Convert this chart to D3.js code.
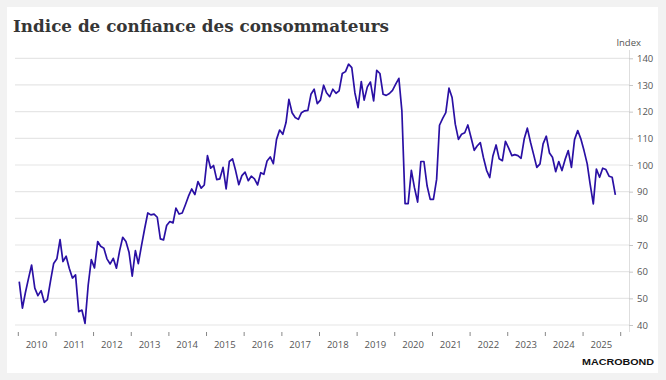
<!DOCTYPE html>
<html>
<head>
<meta charset="utf-8">
<script src="https://cdn.jsdelivr.net/npm/d3@7"></script>
<style>
html, body { margin: 0; padding: 0; background: #f2f2f2; }
svg { display: block; }
</style>
</head>
<body>
<div id="chart"></div>
<script>
// monthly values, starting Jan 2010
var startYear = 2010;
var index = [
    56.3, 46.3, 52, 57.5, 62.5, 53.8, 51, 52.9, 48.5, 49.5, 56.6, 63.1,
    64.8, 72, 63.8, 65.8, 61.3, 57.6, 58.8, 45, 45.6, 40.6, 55, 64.5,
    61.4, 71.3, 69.5, 68.8, 64.8, 62.9, 65, 61.3, 67.9, 72.9, 71.3, 67.3,
    58.3, 67.9, 63, 69.8, 76, 82, 81.3, 81.6, 80.4, 72.3, 71.9, 77.3,
    78.8, 78.3, 83.8, 81.6, 82, 85.1, 88.3, 91, 88.9, 93.8, 91.3, 92.5,
    103.5, 98.8, 99.8, 94.5, 94.8, 99.1, 91, 101.3, 102.3, 97.9, 92.6, 96,
    97.3, 94.1, 95.8, 94.8, 92.5, 97.1, 96.5, 101.5, 103, 100.5, 109.6, 113.1,
    111.5, 115.9, 124.6, 119.6, 117.8, 117.1, 119.6, 120.3, 120.5, 126.5, 128.4, 123,
    124.3, 129.9, 127.1, 125.6, 128.4, 126.9, 127.8, 134.3, 135, 137.8, 136.5, 127.1,
    121.5, 131.3, 124.3, 129.3, 131.1, 124, 135.5, 134.3, 126.5, 126.1, 126.8, 128,
    130.3, 132.5, 120.3, 85.5, 85.5, 98, 91.5, 86.1, 101.3, 101.3, 92.1, 87.1,
    87.1, 94.6, 114.9, 117.5, 119.6, 128.8, 125.3, 115.3, 109.6, 111.5, 112.1, 115,
    110.3, 105.5, 107.1, 108.4, 102.8, 98, 95.3, 103.4, 107.5, 102.3, 101.6, 108.9,
    106.3, 103.5, 103.9, 103.5, 102.5, 109.8, 113.8, 108.5, 103.8, 99.1, 100.4, 107.9,
    110.8, 104.5, 102.9, 97.5, 101.3, 97.9, 102, 105.4, 99.1, 109.5, 112.9, 109.8,
    105.4, 100.4, 92.9, 85.4, 98.5, 95.4, 98.8, 98.3, 95.8, 95.4, 88.8
];
var yearLabels = [2010, 2011, 2012, 2013, 2014, 2015, 2016, 2017, 2018, 2019, 2020, 2021, 2022, 2023, 2024, 2025];
var yTicks = [40, 50, 60, 70, 80, 90, 100, 110, 120, 130, 140];

var width = 666;
var height = 380;

var svg = d3
    .select('#chart')
    .append('svg')
    .attr('width', width)
    .attr('height', height);

// white card
svg.append('rect')
    .attr('x', 7)
    .attr('y', 7)
    .attr('width', 651)
    .attr('height', 366)
    .attr('fill', '#ffffff');

svg.append('text')
    .attr('x', 13)
    .attr('y', 31.5)
    .text('Indice de confiance des consommateurs')
    .style('font-family', '"DejaVu Serif", serif')
    .style('font-weight', 'bold')
    .style('font-size', '16.5px')
    .attr('textLength', 376)
    .attr('lengthAdjust', 'spacingAndGlyphs')
    .attr('fill', '#363636');

var data = index.map(function(v, i) {
    return { date: new Date(startYear, i, 15), value: v };
});

var x = d3.scaleTime()
    .domain([new Date(2010, 0, 1), new Date(2026, 0, 1)])
    .range([17.8, 620.2]);

var y = d3.scaleLinear()
    .domain([40, 140])
    .range([325, 58.3]);

var labelFont = '"Open Sans", sans-serif';

// gridlines
svg.append('g')
    .selectAll('line')
    .data(yTicks)
    .join('line')
    .attr('x1', 15)
    .attr('x2', 629)
    .attr('y1', function(d) { return y(d); })
    .attr('y2', function(d) { return y(d); })
    .attr('stroke', '#e6e6e6')
    .attr('stroke-width', 1.2);

// right axis
var yAxis = svg.append('g')
    .attr('transform', 'translate(629,0)')
    .call(d3.axisRight(y).tickValues(yTicks).tickSize(4).tickPadding(4));
yAxis.select('.domain')
    .attr('d', 'M0.5,50V332')
    .attr('stroke', '#dedede');
yAxis.selectAll('.tick line').attr('stroke', '#c8c8c8');
yAxis.selectAll('.tick text')
    .attr('fill', '#555')
    .style('font-family', labelFont)
    .style('font-size', '9.5px');

svg.append('text')
    .attr('x', 641)
    .attr('y', 46)
    .attr('text-anchor', 'end')
    .text('Index')
    .attr('fill', '#555')
    .style('font-family', labelFont)
    .style('font-size', '9.5px');

// bottom axis: ticks at year boundaries, labels mid-year
var yearTicks = yearLabels.concat([2026]).map(function(yr) { return new Date(yr, 0, 1); });
var xAxis = svg.append('g')
    .attr('transform', 'translate(0,332)')
    .call(d3.axisBottom(x).tickValues(yearTicks).tickSize(4).tickFormat(''));
xAxis.select('.domain').remove();
xAxis.selectAll('.tick line').attr('stroke', '#888');

svg.append('g')
    .selectAll('text')
    .data(yearLabels)
    .join('text')
    .attr('x', function(d) { return x(new Date(d, 6, 2)); })
    .attr('y', 347.5)
    .attr('text-anchor', 'middle')
    .text(function(d) { return d; })
    .attr('fill', '#555')
    .style('font-family', labelFont)
    .style('font-size', '9.5px');

var line = d3.line()
    .x(function(d) { return x(d.date); })
    .y(function(d) { return y(d.value); });

svg.append('path')
    .datum(data)
    .attr('d', line)
    .attr('fill', 'none')
    .attr('stroke', '#2a10a4')
    .attr('stroke-width', 1.7)
    .attr('stroke-linejoin', 'round');

// source logo
svg.append('text')
    .attr('x', 654)
    .attr('y', 365)
    .attr('text-anchor', 'end')
    .text('MACROBOND')
    .style('font-family', '"Liberation Sans", sans-serif')
    .style('font-weight', 'bold')
    .style('font-size', '9.5px')
    .attr('textLength', 72)
    .attr('lengthAdjust', 'spacingAndGlyphs')
    .attr('fill', '#111');
</script>
</body>
</html>
